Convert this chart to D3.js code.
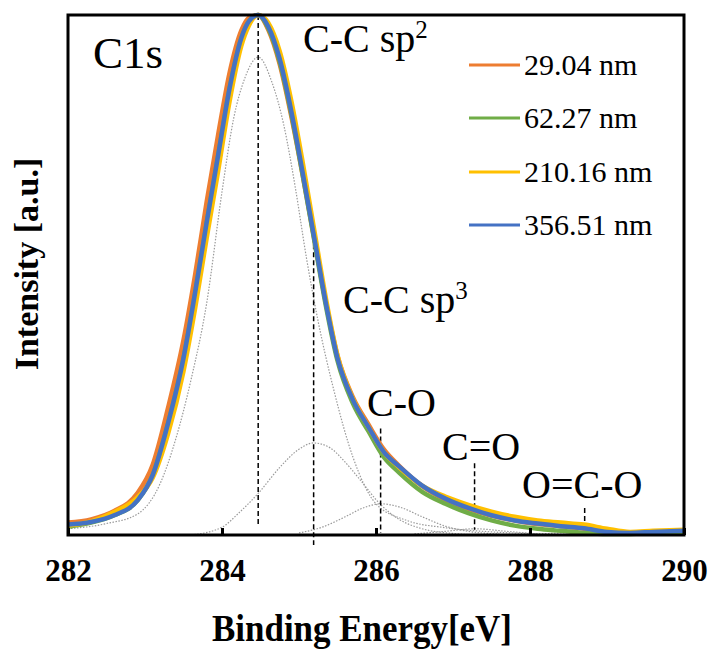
<!DOCTYPE html>
<html>
<head>
<meta charset="utf-8">
<script src="https://cdn.jsdelivr.net/npm/d3@7"></script>
<style>
    body { margin: 0; background: #fff; }
    #chart { width: 708px; height: 653px; }
    text { font-family: "Liberation Serif", "Times New Roman", serif; fill: #000; }
</style>
</head>
<body>
<div id="chart"></div>
<script>
// binding energy grid (eV) the spectra were read at
const energy = [282.0, 282.3, 282.6, 282.9, 283.1, 283.3, 283.5, 283.65, 283.8, 283.95, 284.1, 284.25, 284.35, 284.47,
    284.6, 284.75, 284.9, 285.05, 285.2, 285.35, 285.5, 285.7, 285.9, 286.1, 286.3, 286.6, 286.9, 287.2, 287.5,
    287.8, 288.1, 288.4, 288.7, 289.0, 289.3, 289.6, 290.0];

// normalized intensity of each sample
const s29 = [0.024, 0.030, 0.046, 0.080, 0.135, 0.245, 0.375, 0.50, 0.64, 0.77, 0.89, 0.97, 0.995, 1.0,
    0.972, 0.905, 0.805, 0.69, 0.568, 0.447, 0.345, 0.265, 0.213, 0.165, 0.133, 0.094, 0.068, 0.05, 0.037,
    0.028, 0.021, 0.017, 0.012, 0.007, 0.004, 0.006, 0.007];
const s62 = [0.016, 0.024, 0.038, 0.066, 0.115, 0.215, 0.34, 0.465, 0.60, 0.73, 0.86, 0.955, 0.988, 1.0,
    0.975, 0.91, 0.81, 0.69, 0.565, 0.44, 0.335, 0.253, 0.2, 0.15, 0.12, 0.083, 0.06, 0.042, 0.028,
    0.018, 0.012, 0.008, 0.004, 0.002, 0.002, 0.004, 0.006];
const s210 = [0.018, 0.026, 0.044, 0.072, 0.11, 0.195, 0.315, 0.435, 0.57, 0.70, 0.835, 0.94, 0.98, 1.0,
    0.985, 0.93, 0.835, 0.715, 0.585, 0.455, 0.345, 0.262, 0.208, 0.16, 0.13, 0.095, 0.074, 0.058, 0.045,
    0.035, 0.028, 0.024, 0.02, 0.012, 0.006, 0.008, 0.01];
const s356 = [0.020, 0.025, 0.038, 0.066, 0.115, 0.215, 0.34, 0.465, 0.60, 0.73, 0.86, 0.955, 0.988, 1.0,
    0.978, 0.915, 0.815, 0.695, 0.57, 0.445, 0.34, 0.26, 0.208, 0.16, 0.132, 0.095, 0.07, 0.052, 0.038,
    0.028, 0.022, 0.017, 0.013, 0.006, 0.004, 0.006, 0.008];

const seriesNames = ["29.04 nm", "62.27 nm", "210.16 nm", "356.51 nm"];
const seriesColors = ["#ED7D31", "#70AD47", "#FFC000", "#4472C4"];

// fitted components (gray dotted)
const sp2E = [282.0, 282.5, 282.9, 283.2, 283.4, 283.6, 283.8, 284.0, 284.15, 284.3, 284.47, 284.65, 284.8,
    284.95, 285.1, 285.25, 285.45, 285.7, 286.0, 286.4, 286.9, 287.5, 288.2];
const sp2I = [0.012, 0.022, 0.040, 0.10, 0.185, 0.30, 0.445, 0.66, 0.80, 0.88, 0.919, 0.87, 0.79,
    0.67, 0.53, 0.41, 0.28, 0.15, 0.06, 0.028, 0.014, 0.006, 0.002];
const sp3E = [283.6, 284.0, 284.23, 284.47, 284.75, 285.0, 285.19, 285.4, 285.6, 285.8, 286.05, 286.3, 286.6, 287.0, 287.4];
const sp3I = [0.0, 0.015, 0.044, 0.08, 0.13, 0.165, 0.177, 0.168, 0.14, 0.105, 0.06, 0.03, 0.012, 0.003, 0.0];
const coE = [285.0, 285.3, 285.6, 285.85, 286.06, 286.3, 286.6, 286.9, 287.2, 287.6];
const coI = [0.004, 0.015, 0.035, 0.053, 0.06, 0.054, 0.035, 0.017, 0.007, 0.002];
const c2oE = [286.5, 286.9, 287.28, 287.7, 288.1];
const c2oI = [0.002, 0.007, 0.012, 0.007, 0.002];
const occoE = [288.0, 288.4, 288.71, 289.0, 289.4];
const occoI = [0.001, 0.004, 0.006, 0.004, 0.001];

// dashed peak markers
const markerE = [284.47, 285.19, 286.06, 287.28, 288.71];
const markerTop = [1.0, 0.59, 0.205, 0.138, 0.052];
const markerBottom = [0.019, -0.019, 0.004, 0.01, 0.0];

const xTicks = [282, 284, 286, 288, 290];

var svg, x, y;
var margin = { top: 15, right: 24, bottom: 118, left: 68 };
var width = 708, height = 653;

document.addEventListener('DOMContentLoaded', function () {
    svg = d3.select('#chart').append('svg')
        .attr('width', width)
        .attr('height', height);

    x = d3.scaleLinear().domain([282, 290]).range([margin.left, width - margin.right]);
    y = d3.scaleLinear().domain([0, 1]).range([height - margin.bottom, margin.top]);

    drawComponents();
    drawMarkers();
    drawLines();
    drawAxes();
    drawLabels();
    drawLegend();
});

function drawComponents() {
    const comps = [[sp2E, sp2I], [sp3E, sp3I], [coE, coI], [c2oE, c2oI], [occoE, occoI]];
    const line = d3.line()
        .x(d => x(d[0]))
        .y(d => y(d[1]))
        .curve(d3.curveMonotoneX);

    comps.forEach(function (c) {
        const pts = c[0].map((e, i) => [e, c[1][i]]);
        svg.append('path')
            .attr('d', line(pts))
            .attr('fill', 'none')
            .attr('stroke', '#9a9a9a')
            .attr('stroke-width', 1.2)
            .attr('stroke-dasharray', '1.5,1.5');
    });
}

function drawMarkers() {
    markerE.forEach(function (e, i) {
        svg.append('line')
            .attr('x1', x(e)).attr('x2', x(e))
            .attr('y1', y(markerTop[i])).attr('y2', y(markerBottom[i]))
            .attr('stroke', '#000')
            .attr('stroke-width', 1.5)
            .attr('stroke-dasharray', '5,3');
    });
}

function drawLines() {
    const all = [s29, s62, s210, s356];
    const line = d3.line()
        .x(d => x(d[0]))
        .y(d => y(d[1]))
        .curve(d3.curveMonotoneX);

    all.forEach(function (vals, i) {
        const pts = energy.map((e, j) => [e, vals[j]]);
        svg.append('path')
            .attr('d', line(pts))
            .attr('fill', 'none')
            .attr('stroke', seriesColors[i])
            .attr('stroke-width', 4.5)
            .attr('stroke-linejoin', 'round');
    });
}

function drawAxes() {
    // frame
    svg.append('rect')
        .attr('x', margin.left)
        .attr('y', margin.top)
        .attr('width', width - margin.left - margin.right)
        .attr('height', height - margin.top - margin.bottom)
        .attr('fill', 'none')
        .attr('stroke', '#000')
        .attr('stroke-width', 3);

    const xAxis = svg.append('g')
        .attr('transform', `translate(0,${height - margin.bottom})`)
        .call(d3.axisBottom(x).tickValues(xTicks).tickSize(-7).tickPadding(24).tickFormat(d3.format('d')));
    xAxis.select('.domain').remove();
    xAxis.selectAll('line').attr('stroke', '#000').attr('stroke-width', 3);
    xAxis.selectAll('text')
        .style('font-family', '"Liberation Serif", serif')
        .style('font-weight', 'bold')
        .style('font-size', '31px')
        .attr('fill', '#000');

    svg.append('text')
        .attr('x', 362)
        .attr('y', 641)
        .attr('text-anchor', 'middle')
        .style('font-weight', 'bold')
        .style('font-size', '37px')
        .attr('textLength', 300)
        .attr('lengthAdjust', 'spacingAndGlyphs')
        .text('Binding Energy[eV]');

    svg.append('text')
        .attr('transform', 'translate(38,264) rotate(-90)')
        .attr('text-anchor', 'middle')
        .style('font-weight', 'bold')
        .style('font-size', '34px')
        .text('Intensity [a.u.]');
}

function drawLabels() {
    svg.append('text')
        .attr('x', 93).attr('y', 68)
        .style('font-size', '45px')
        .text('C1s');

    const sp = [['C-C sp', '2', 303, 52], ['C-C sp', '3', 343, 313]];
    sp.forEach(function (d) {
        const t = svg.append('text')
            .attr('x', d[2]).attr('y', d[3])
            .style('font-size', '40px');
        t.append('tspan').text(d[0]);
        t.append('tspan')
            .attr('dy', -14)
            .style('font-size', '25px')
            .text(d[1]);
    });

    const others = [['C-O', 367, 416], ['C=O', 442, 460], ['O=C-O', 522, 498]];
    others.forEach(function (d) {
        svg.append('text')
            .attr('x', d[1]).attr('y', d[2])
            .style('font-size', '40px')
            .text(d[0]);
    });
}

function drawLegend() {
    const rowY = [65, 118, 172, 225];
    seriesNames.forEach(function (name, i) {
        svg.append('line')
            .attr('x1', 469).attr('x2', 520)
            .attr('y1', rowY[i]).attr('y2', rowY[i])
            .attr('stroke', seriesColors[i])
            .attr('stroke-width', 3);
        svg.append('text')
            .attr('x', 524).attr('y', rowY[i] + 10)
            .style('font-size', '30px')
            .text(name);
    });
}
</script>
</body>
</html>
